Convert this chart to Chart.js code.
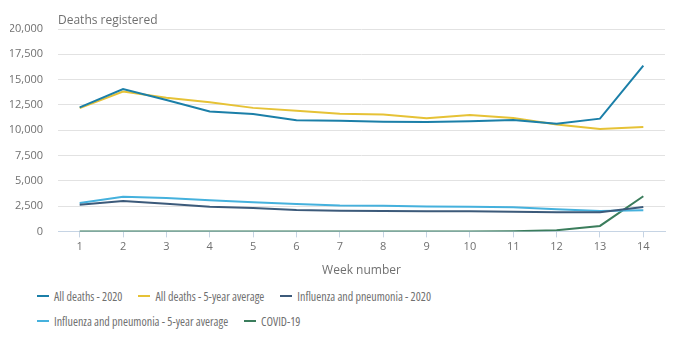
<!DOCTYPE html>
<html>
<head>
<meta charset="utf-8">
<script src="https://cdn.jsdelivr.net/npm/chart.js@4"></script>
<style>
  body { margin: 0; background: #fff; font-family: "Open Sans", sans-serif; }
  #wrap { width: 700px; height: 342px; position: relative; }
  #legend {
    display: flex; flex-wrap: wrap; width: 560px; margin-left: 37px;
    padding-top: 4px; row-gap: 5px; column-gap: 16px;
  }
  .item { display: flex; align-items: center; height: 20px; font-size: 12px;
    font-stretch: 75%; color: #707070; }
  .swatch { width: 12px; height: 2px; margin-right: 5px; }
</style>
</head>
<body>
<div id="wrap">
  <div style="height:282px"><canvas id="deathsChart"></canvas></div>
  <div id="legend"></div>
</div>
<script>
  // weeks 1-14, 2020
  const weeks = ['1','2','3','4','5','6','7','8','9','10','11','12','13','14'];
  const yTicks = [0, 2500, 5000, 7500, 10000, 12500, 15000, 17500, 20000];

  const allDeaths2020 = [12254, 14058, 12990, 11856, 11612, 10986, 10944, 10841, 10816, 10895, 11019, 10645, 11141, 16387];
  const allDeathsAvg = [12175, 13822, 13216, 12760, 12206, 11925, 11627, 11548, 11183, 11498, 11205, 10573, 10130, 10305];
  const flu2020 = [2640, 3000, 2740, 2440, 2310, 2110, 2050, 2010, 2000, 1980, 1950, 1880, 1900, 2400];
  const fluAvg = [2800, 3430, 3300, 3070, 2870, 2700, 2570, 2540, 2470, 2440, 2380, 2180, 2010, 2100];
  const covid = [0, 0, 0, 0, 0, 0, 0, 0, 0, 0, 5, 103, 539, 3475];

  const seriesNames = ['All deaths - 2020', 'All deaths - 5-year average', 'Influenza and pneumonia - 2020',
    'Influenza and pneumonia - 5-year average', 'COVID-19'];
  const seriesColors = ['#1b7fa8', '#e6c236', '#3c5a7a', '#45b1dd', '#3b7d5c'];
  const seriesValues = [allDeaths2020, allDeathsAvg, flu2020, fluAvg, covid];

  const textGrey = '#707070';

  // "Deaths registered" label above the plot, lined up with the chart area
  const topLabel = {
    id: 'topLabel',
    afterDraw(chart) {
      const ctx = chart.ctx;
      ctx.save();
      ctx.font = '12px "Open Sans"';
      ctx.fillStyle = textGrey;
      ctx.textBaseline = 'middle';
      ctx.textAlign = 'left';
      ctx.fillText('Deaths registered', chart.chartArea.left, 21);
      ctx.restore();
    }
  };

  const ctx = document.getElementById('deathsChart').getContext('2d');
  const chart = new Chart(ctx, {
    type: 'line',
    data: {
      labels: weeks,
      datasets: seriesValues.map((vals, i) => ({
        label: seriesNames[i],
        data: vals,
        borderColor: seriesColors[i],
        backgroundColor: seriesColors[i],
        borderWidth: 2,
        pointRadius: 0,
        tension: 0,
      })),
    },
    options: {
      responsive: true,
      maintainAspectRatio: false,
      animation: false,
      layout: { padding: { top: 29, left: 10, right: 35, bottom: 4 } },
      plugins: {
        legend: { display: false },
        tooltip: { enabled: false },
      },
      scales: {
        x: {
          offset: true,
          grid: { drawOnChartArea: false, offset: false, tickLength: 6, color: '#c6d4e4' },
          border: { color: '#c6d4e4' },
          ticks: { color: textGrey, font: { family: 'Open Sans', size: 11 }, padding: 3, maxRotation: 0 },
          title: { display: true, text: 'Week number', color: textGrey,
            font: { family: 'Open Sans', size: 12 }, padding: { top: 7, bottom: 0 } },
        },
        y: {
          min: 0,
          max: 20000,
          afterBuildTicks: (axis) => { axis.ticks = yTicks.map(v => ({ value: v })); },
          afterFit: (axis) => { axis.width = 48; },
          grid: { drawTicks: false, color: '#e2e2e2' },
          border: { display: false },
          ticks: {
            color: textGrey, font: { family: 'Open Sans', size: 11 }, padding: 15,
            callback: (v) => v.toLocaleString('en-GB'),
          },
        },
      },
    },
    plugins: [topLabel],
  });

  // legend in HTML so it wraps like the original
  const legendEl = document.getElementById('legend');
  chart.data.datasets.forEach(ds => {
    const item = document.createElement('div');
    item.className = 'item';
    const sw = document.createElement('span');
    sw.className = 'swatch';
    sw.style.background = ds.borderColor;
    item.appendChild(sw);
    item.appendChild(document.createTextNode(ds.label));
    legendEl.appendChild(item);
  });
</script>
</body>
</html>
